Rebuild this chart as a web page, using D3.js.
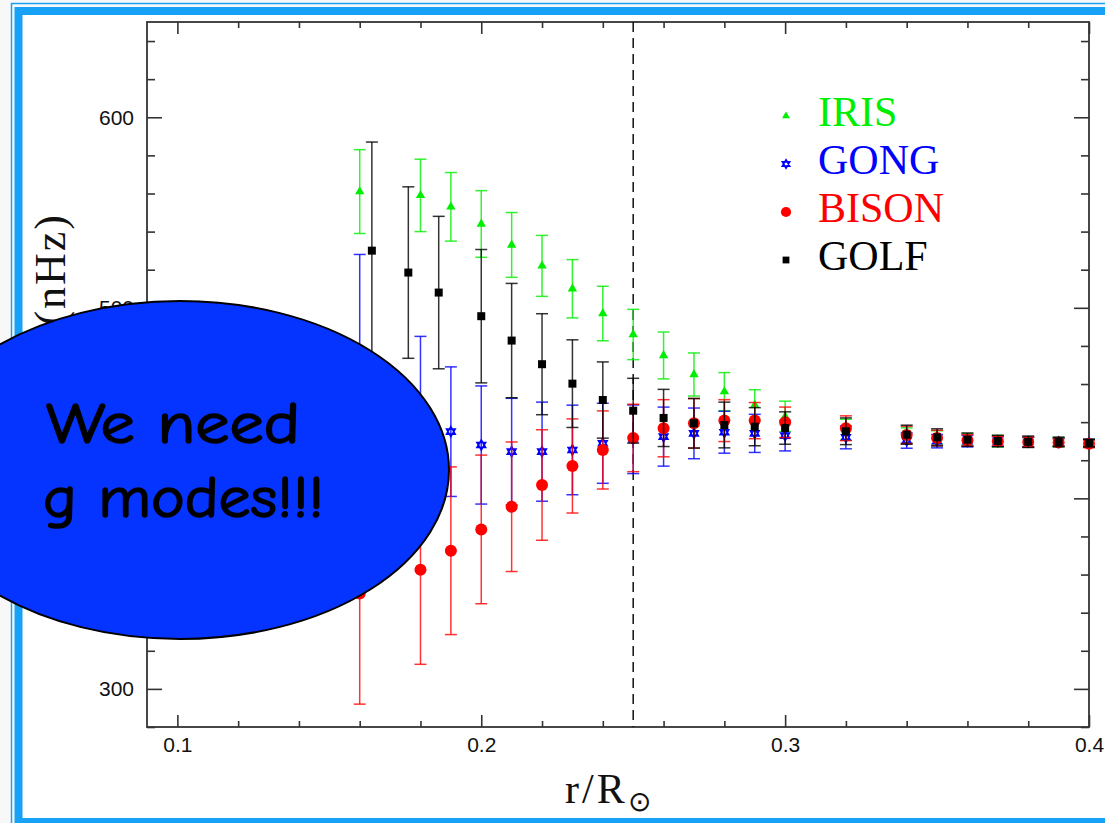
<!DOCTYPE html>
<html>
<head>
<meta charset="utf-8">
<script src="https://cdn.jsdelivr.net/npm/d3@7"></script>
<style>
  html, body { margin: 0; padding: 0; background: #f8f8f8; }
</style>
</head>
<body>
<div class="chart"></div>
<script>
// taille de la page
const width = 1105;
const height = 823;
const frame = { left: 147, right: 1089, top: 22, bottom: 727 };

// rayons (r/R) et vitesses de rotation (nHz)
const irisR   = [0.16, 0.18, 0.19, 0.20, 0.21, 0.22, 0.23, 0.24, 0.25, 0.26, 0.27, 0.28, 0.29, 0.30, 0.32, 0.34, 0.35, 0.36, 0.37, 0.38, 0.39, 0.40];
const irisVal = [561, 559, 553, 544, 533, 522, 510, 497, 486, 475, 465, 456, 449, 443, 436, 433, 432, 431, 430, 429.5, 429.5, 429];
const irisErr = [22, 19, 18, 17.5, 17, 16, 15.3, 14.3, 13.2, 12.3, 11.3, 10, 8, 8, 5.5, 4, 3.5, 3, 3, 2.5, 2.5, 2];

const gongR   = [0.16, 0.18, 0.19, 0.20, 0.21, 0.22, 0.23, 0.24, 0.25, 0.26, 0.27, 0.28, 0.29, 0.30, 0.32, 0.34, 0.35, 0.36, 0.37, 0.38, 0.39, 0.40];
const gongVal = [470, 445, 435, 428, 424.5, 424.5, 425.4, 428.9, 431, 432.4, 434.1, 434.7, 434.1, 432.9, 432, 430.3, 430, 430, 429.8, 429.6, 429.5, 429];
const gongErr = [58, 40, 34, 31, 28, 26, 23.5, 21, 18, 15.5, 13.3, 11, 10, 8, 6, 4, 3.5, 3, 2.5, 2.5, 2, 2];

const bisonR   = [0.16, 0.18, 0.19, 0.20, 0.21, 0.22, 0.23, 0.24, 0.25, 0.26, 0.27, 0.28, 0.29, 0.30, 0.32, 0.34, 0.35, 0.36, 0.37, 0.38, 0.39, 0.40];
const bisonVal = [350, 362.5, 372.5, 383.7, 395.6, 407, 417, 425.4, 431.7, 436.8, 439.4, 440.8, 440.8, 439.9, 436.8, 433.3, 431.7, 430.5, 430, 429.6, 429.3, 428.6];
const bisonErr = [58, 49.6, 44, 39, 34, 29, 24.7, 20.5, 17.7, 15, 13, 11, 9.5, 8, 6.5, 4.5, 4, 3, 2.5, 2.5, 2, 2];

const golfR   = [0.164, 0.176, 0.186, 0.20, 0.21, 0.22, 0.23, 0.24, 0.25, 0.26, 0.27, 0.28, 0.29, 0.30, 0.32, 0.34, 0.35, 0.36, 0.37, 0.38, 0.39, 0.40];
const golfVal = [530, 518.5, 508, 495.6, 482.8, 470.4, 460.2, 451.6, 446, 442.2, 439.4, 438.5, 437.6, 436.9, 435.2, 433.4, 432, 430.8, 430.1, 429.7, 429.6, 429];
const golfErr = [57, 45, 40, 35, 30, 26.5, 23, 20, 17, 15, 13, 12, 10, 8.5, 7, 5, 4.5, 3.5, 3, 3, 2.5, 2];

const series = [
  { name: "IRIS",  color: "#00ee00", marker: "triangle", r: irisR,  val: irisVal,  err: irisErr },
  { name: "GONG",  color: "#0000ff", marker: "star",     r: gongR,  val: gongVal,  err: gongErr },
  { name: "BISON", color: "#ff0000", marker: "circle",   r: bisonR, val: bisonVal, err: bisonErr },
  { name: "GOLF",  color: "#000000", marker: "square",   r: golfR,  val: golfVal,  err: golfErr }
];

const xMajor = [0.1, 0.2, 0.3, 0.4];
const xMinor = [0.12, 0.14, 0.16, 0.18, 0.22, 0.24, 0.26, 0.28, 0.32, 0.34, 0.36, 0.38];
const yMajor = [300, 400, 500, 600];
const yMinor = [280, 320, 340, 360, 380, 420, 440, 460, 480, 520, 540, 560, 580, 620, 640];
const rCut = 0.25;

const svg = d3.select('.chart')
  .append('svg')
  .attr('width', width)
  .attr('height', height)
  .style('display', 'block');

// cadre bleu de la diapo
svg.append('rect')
  .attr('x', 11.5).attr('y', 3.5)
  .attr('width', width + 20).attr('height', height + 20)
  .attr('fill', 'none').attr('stroke', '#18a2f7').attr('stroke-width', 1.5);
svg.append('rect')
  .attr('x', 18.5).attr('y', 11)
  .attr('width', width + 20).attr('height', 811)
  .attr('fill', 'white').attr('stroke', '#18a2f7').attr('stroke-width', 8);

const x = d3.scaleLinear().domain([0.09, 0.4]).range([frame.left, frame.right]);
const y = d3.scaleLinear().domain([280, 650]).range([frame.bottom, frame.top]);

// axes, ticks vers l'intérieur
const tickFont = g => g.selectAll('text')
  .attr('font-family', 'Liberation Sans, Arial, sans-serif')
  .attr('font-size', 21)
  .attr('fill', '#111');

function cleanAxis(g) {
  g.select('.domain').remove();
  g.selectAll('line').attr('stroke', '#333').attr('stroke-width', 1.6);
}

svg.append('g')
  .attr('transform', `translate(0, ${frame.bottom})`)
  .call(d3.axisBottom(x).tickValues(xMajor).tickSize(-12).tickPadding(10).tickFormat(d3.format('.1f')))
  .call(cleanAxis).call(tickFont);
svg.append('g')
  .attr('transform', `translate(0, ${frame.bottom})`)
  .call(d3.axisBottom(x).tickValues(xMinor).tickSize(-6).tickFormat(''))
  .call(cleanAxis);
svg.append('g')
  .attr('transform', `translate(0, ${frame.top})`)
  .call(d3.axisTop(x).tickValues(xMajor).tickSize(-12).tickFormat(''))
  .call(cleanAxis);
svg.append('g')
  .attr('transform', `translate(0, ${frame.top})`)
  .call(d3.axisTop(x).tickValues(xMinor).tickSize(-6).tickFormat(''))
  .call(cleanAxis);

svg.append('g')
  .attr('transform', `translate(${frame.left}, 0)`)
  .call(d3.axisLeft(y).tickValues(yMajor).tickSize(-15).tickPadding(13))
  .call(cleanAxis).call(tickFont);
svg.append('g')
  .attr('transform', `translate(${frame.left}, 0)`)
  .call(d3.axisLeft(y).tickValues(yMinor).tickSize(-8).tickFormat(''))
  .call(cleanAxis);
svg.append('g')
  .attr('transform', `translate(${frame.right}, 0)`)
  .call(d3.axisRight(y).tickValues(yMajor).tickSize(-15).tickFormat(''))
  .call(cleanAxis);
svg.append('g')
  .attr('transform', `translate(${frame.right}, 0)`)
  .call(d3.axisRight(y).tickValues(yMinor).tickSize(-8).tickFormat(''))
  .call(cleanAxis);

svg.append('rect')
  .attr('x', frame.left).attr('y', frame.top)
  .attr('width', frame.right - frame.left).attr('height', frame.bottom - frame.top)
  .attr('fill', 'none').attr('stroke', '#333').attr('stroke-width', 1.8);

// ligne pointillée r = 0.25
svg.append('line')
  .attr('x1', x(rCut)).attr('x2', x(rCut))
  .attr('y1', frame.top).attr('y2', frame.bottom)
  .attr('stroke', '#111').attr('stroke-width', 1.5)
  .attr('stroke-dasharray', '10,6');

// titres des axes
svg.append('text')
  .attr('x', 565).attr('y', 803)
  .attr('font-family', 'Liberation Serif, Times New Roman, serif')
  .attr('font-size', 42).attr('fill', '#111')
  .attr('letter-spacing', 3)
  .text('r/R')
  .append('tspan')
    .attr('dy', 8).attr('font-size', 28)
    .text('⊙');

svg.append('text')
  .attr('transform', 'translate(65, 213) rotate(-90)')
  .attr('text-anchor', 'end')
  .attr('font-family', 'Liberation Serif, Times New Roman, serif')
  .attr('font-size', 44).attr('fill', '#111')
  .attr('letter-spacing', 2)
  .text('Ω/2π (nHz)');

// marqueurs
function hexagram(s) {
  const t1 = [0, 1, 2].map(i => [s * Math.sin(i * 2 * Math.PI / 3), -s * Math.cos(i * 2 * Math.PI / 3)]);
  const t2 = t1.map(p => [p[0], -p[1]]);
  return 'M' + t1.join('L') + 'Z M' + t2.join('L') + 'Z';
}

function drawMarker(sel, type, color, k) {
  if (type === 'triangle') {
    sel.append('path').attr('d', d3.symbol(d3.symbolTriangle, 38 * k * k)).attr('fill', color);
  } else if (type === 'star') {
    sel.append('path').attr('d', hexagram(5 * k)).attr('fill', 'none')
      .attr('stroke', color).attr('stroke-width', 1.6);
  } else if (type === 'circle') {
    sel.append('circle').attr('r', 6 * k).attr('fill', color);
  } else {
    sel.append('path').attr('d', d3.symbol(d3.symbolSquare, 64 * k * k)).attr('fill', color);
  }
}

const plot = svg.append('g');
series.forEach(s => {
  const pts = s.r.map((r, i) => ({ r: r, v: s.val[i], e: s.err[i] }));
  const g = plot.append('g');
  const bars = g.selectAll('g.bar')
    .data(pts)
    .join('g')
      .attr('class', 'bar')
      .attr('stroke', s.color)
      .attr('stroke-opacity', 0.8)
      .attr('stroke-width', 1.5);
  bars.append('line')
    .attr('x1', d => x(d.r)).attr('x2', d => x(d.r))
    .attr('y1', d => y(d.v + d.e)).attr('y2', d => y(d.v - d.e));
  bars.append('line')
    .attr('x1', d => x(d.r) - 6).attr('x2', d => x(d.r) + 6)
    .attr('y1', d => y(d.v + d.e)).attr('y2', d => y(d.v + d.e));
  bars.append('line')
    .attr('x1', d => x(d.r) - 6).attr('x2', d => x(d.r) + 6)
    .attr('y1', d => y(d.v - d.e)).attr('y2', d => y(d.v - d.e));
  g.selectAll('g.mk')
    .data(pts)
    .join('g')
      .attr('class', 'mk')
      .attr('transform', d => `translate(${x(d.r)}, ${y(d.v)})`)
      .each(function () { drawMarker(d3.select(this), s.marker, s.color, 1); });
});

// légende
const legend = svg.append('g');
series.forEach((s, i) => {
  const row = legend.append('g').attr('transform', `translate(786, ${116 + i * 48})`);
  drawMarker(row, s.marker, s.color, 0.85);
  row.append('text')
    .attr('x', 32).attr('y', 10)
    .attr('font-family', 'Liberation Serif, Times New Roman, serif')
    .attr('font-size', 42)
    .attr('fill', s.color)
    .text(s.name);
});

// la bulle
svg.append('ellipse')
  .attr('cx', 180).attr('cy', 470)
  .attr('rx', 269).attr('ry', 169)
  .attr('fill', '#0533ff')
  .attr('stroke', '#000').attr('stroke-width', 2);

const bubble = svg.append('g')
  .attr('font-family', 'Comic Sans MS, Comic Neue, DejaVu Sans, sans-serif')
  .attr('font-size', 58)
  .attr('fill', '#000')
  .attr('stroke', '#000')
  .attr('stroke-width', 1.6);
bubble.append('text').attr('x', 46).attr('y', 443)
  .attr('textLength', 254).attr('lengthAdjust', 'spacingAndGlyphs')
  .text('We need');
bubble.append('text').attr('x', 43).attr('y', 517)
  .attr('textLength', 281).attr('lengthAdjust', 'spacingAndGlyphs')
  .text('g modes!!!');
</script>
</body>
</html>
